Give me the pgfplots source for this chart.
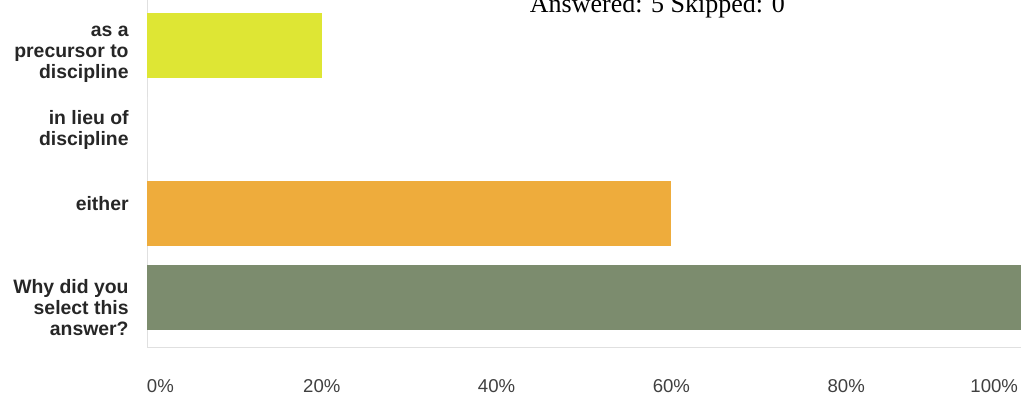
\documentclass[border=0pt]{standalone}
\usepackage{pgfplots}
\pgfplotsset{compat=1.18}
\usepackage{fontspec}
\setmainfont{Liberation Sans}
\newfontfamily\titlefont{Liberation Serif}
\definecolor{cyel}{RGB}{222,230,52}
\definecolor{corg}{RGB}{238,172,60}
\definecolor{cgrn}{RGB}{124,140,110}
\begin{document}
\begin{tikzpicture}
\begin{axis}[
  scale only axis, width=437pt, height=173.5pt,
  xbar, bar width=32.5pt, bar shift=0pt,
  xmin=0, xmax=100, ymin=-0.59, ymax=3.54,
  axis x line*=bottom, axis y line*=left,
  axis line style={draw=black!12},
  major tick length=0pt,
  ytick={-0.12,1.12,1.99,2.89},
  yticklabels={{Why did you\\select this\\answer?},{either},{in lieu of\\discipline},{as a\\precursor to\\discipline}},
  yticklabel style={align=right, inner sep=0pt, xshift=-9pt,
     font=\bfseries\fontsize{9.7}{10.5}\selectfont, text=black!85},
  xtick={0,20,40,60,80,100},
  xticklabels={\makebox[0pt][l]{0\%},20\%,40\%,60\%,80\%,\makebox[0pt][r]{100\%\hspace{1.5pt}}},
  xticklabel style={inner sep=0pt, anchor=north, yshift=-16pt,
     font=\fontsize{9.3}{10}\selectfont, text=black!75},
  clip=false,
]
\addplot[fill=cyel, draw=none] coordinates {(20,3)};
\addplot[fill=white, draw=none] coordinates {(0,2)};
\addplot[fill=corg, draw=none] coordinates {(60,1)};
\addplot[fill=cgrn, draw=none] coordinates {(100,0)};
\node[anchor=base, font=\titlefont\fontsize{13}{14}\selectfont, yshift=-6pt] at (rel axis cs:0.584,1) {Answered: 5 Skipped: 0};
\end{axis}
\pgfresetboundingbox
\path[use as bounding box] ([xshift=-73.5pt,yshift=-27.5pt]current axis.south west) rectangle ([xshift=4pt]current axis.north east);
\end{tikzpicture}
\end{document}
